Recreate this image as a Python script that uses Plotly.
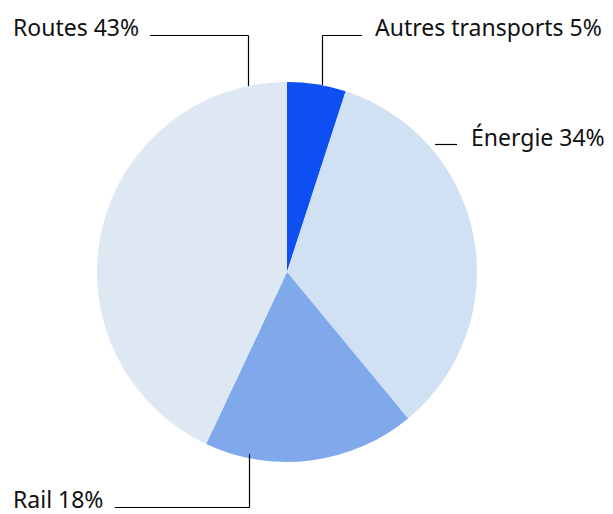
import math
import plotly.graph_objects as go

# data
categories = ["Autres transports", "Énergie", "Rail", "Routes"]
shares = [5, 34, 18, 43]
colors = ["#0d4ff2", "#d1e1f4", "#80a9ec", "#dde8f3"]

# page body has an 8px margin, so the figure is drawn slightly smaller
OFF = 8
W, H = 613 - OFF, 514 - OFF
CX, CY, R = 287, 272, 190  # pie centre / radius in window px


def px(x):
    return (x - OFF) / W


def py(y):
    return 1 - (y - OFF) / H


# label placement (window px): text anchor, anchor angle on the rim, line ends
label_pos = {
    "Autres transports": dict(tx=373, ty=27, ang=10.5, path="up", hx=362, hy=35.5),
    "Énergie": dict(tx=469, ty=137, ang=None, path="flat", hx=435, hx2=457, hy=144.5),
    "Rail": dict(tx=11, ty=499, ang=191.5, path="down", hx=115, hy=507.5),
    "Routes": dict(tx=11, ty=27, ang=348.2, path="up", hx=150, hy=35.5),
}

fig = go.Figure(go.Pie(
    labels=categories,
    values=shares,
    sort=False,
    direction="clockwise",
    rotation=0,
    marker=dict(colors=colors, line=dict(width=0)),
    textinfo="none",
    hoverinfo="label+percent",
    showlegend=False,
    domain=dict(x=[px(CX - R), px(CX + R)], y=[py(CY + R), py(CY - R)]),
))

line = dict(color="#000000", width=1.2)
shapes = []
annotations = []
for cat, val in zip(categories, shares):
    p = label_pos[cat]
    annotations.append(dict(
        x=px(p["tx"]), y=py(p["ty"]), xref="paper", yref="paper",
        text=f"{cat} {val}%", showarrow=False,
        xanchor="left", yanchor="middle",
        font=dict(family="Noto Sans", size=23, color="#111111"),
    ))
    if p["ang"] is not None:
        a = math.radians(p["ang"])
        ex = round(CX + R * math.sin(a)) + 0.5
        ey = CY - R * math.cos(a)
    if p["path"] == "up":
        pts = [(ex, ey), (ex, p["hy"]), (p["hx"], p["hy"])]
    elif p["path"] == "down":
        pts = [(ex, ey - 4), (ex, p["hy"]), (p["hx"], p["hy"])]
    else:
        pts = [(p["hx"], p["hy"]), (p["hx2"], p["hy"])]
    for (x0, y0), (x1, y1) in zip(pts[:-1], pts[1:]):
        shapes.append(dict(type="line", xref="paper", yref="paper",
                           x0=px(x0), y0=py(y0), x1=px(x1), y1=py(y1), line=line))

fig.update_layout(
    width=W, height=H,
    margin=dict(l=0, r=0, t=0, b=0),
    paper_bgcolor="white",
    plot_bgcolor="white",
    shapes=shapes,
    annotations=annotations,
)

fig.write_html("out.html")
